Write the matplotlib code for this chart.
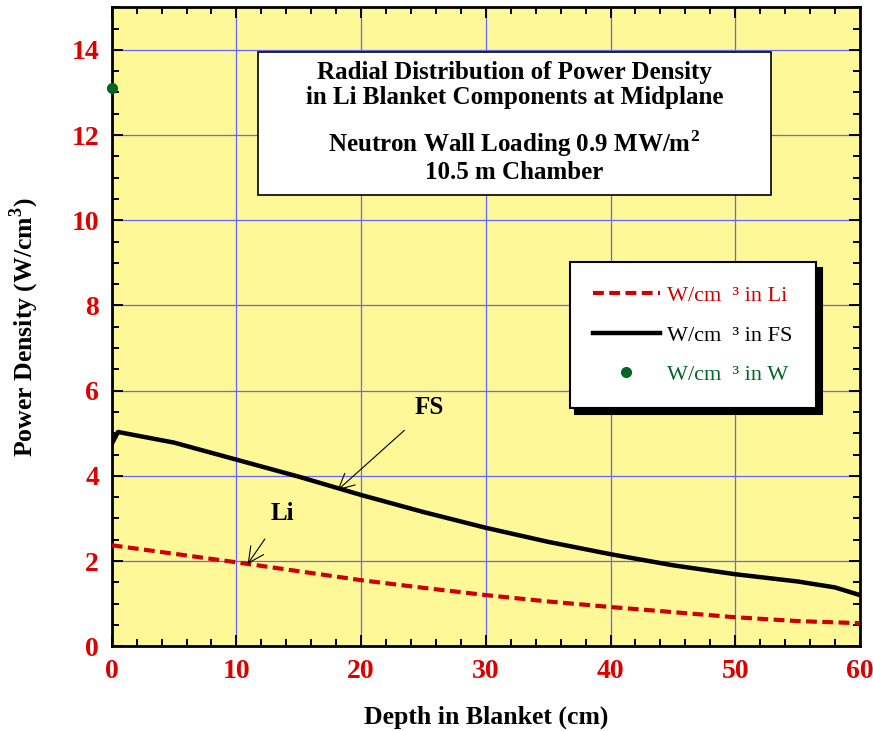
import matplotlib.pyplot as plt
from matplotlib.patches import Rectangle
from matplotlib.ticker import MultipleLocator

plt.rcParams['font.family'] = ['Liberation Serif', 'DejaVu Serif']
plt.rcParams['mathtext.fontset'] = 'custom'
plt.rcParams['mathtext.rm'] = 'Liberation Serif'
plt.rcParams['mathtext.bf'] = 'Liberation Serif:bold'

# power density in ferritic steel (FS)
fs_depth = [0, 0.5, 5, 10, 15, 20, 25, 30, 35, 40, 45, 50, 55, 58, 60]
fs_power = [4.75, 5.03, 4.78, 4.38, 3.98, 3.55, 3.15, 2.78, 2.45, 2.16, 1.90, 1.69, 1.52, 1.38, 1.20]

# power density in lithium
li_depth = [0, 5, 10, 15, 20, 25, 30, 35, 40, 45, 50, 55, 60]
li_power = [2.37, 2.17, 1.97, 1.76, 1.55, 1.37, 1.20, 1.05, 0.92, 0.80, 0.68, 0.59, 0.54]

# tungsten, first wall only
w_depth = [0]
w_power = [13.1]

fig = plt.figure(figsize=(8.73, 7.31), dpi=100)
ax = fig.add_axes([0.128, 0.116, 0.857, 0.874])
ax.set_facecolor('#fff899')

ax.plot(li_depth, li_power, color='#cc0000', lw=3.0, dashes=(2.6, 1.3),
        label='W/cm  \u00b3 in Li', zorder=3)
ax.plot(fs_depth, fs_power, color='black', lw=3.2,
        label='W/cm  \u00b3 in FS', zorder=3)
ax.plot(w_depth, w_power, 'o', color='#006622', ms=7, clip_on=False,
        label='W/cm  \u00b3 in W', zorder=4)

ax.set_xlim(0, 60)
ax.set_ylim(0, 15)
ax.xaxis.set_major_locator(MultipleLocator(10))
ax.xaxis.set_minor_locator(MultipleLocator(2))
ax.yaxis.set_minor_locator(MultipleLocator(0.5))
ax.set_yticks(range(0, 15, 2))
ax.grid(True, which='major', color='#6666ff', lw=0.9, zorder=1)
ax.set_axisbelow(True)

ax.tick_params(which='both', direction='in', top=True, right=True,
               colors='black', width=1.4)
ax.tick_params(which='major', length=8, labelsize=20, labelcolor='#dd0000', pad=9)
ax.tick_params(which='minor', length=5)
for lab in ax.get_xticklabels() + ax.get_yticklabels():
    lab.set_fontweight('bold')
for sp in ax.spines.values():
    sp.set_linewidth(2)

ax.set_xlabel('Depth in Blanket (cm)', fontsize=18.5, fontweight='bold', labelpad=16)
ax.set_ylabel('Power Density (W/cm$^\\mathbf{3}$)', fontsize=18.5, fontweight='bold', labelpad=22)

# title box
ax.add_patch(Rectangle((11.7, 10.6), 41.2, 3.35, facecolor='white',
                       edgecolor='black', lw=1.2, zorder=5))
title_lines = ['Radial Distribution of Power Density',
               'in Li Blanket Components at Midplane',
               'Neutron Wall Loading 0.9 MW/m$^\\mathbf{2}$',
               '10.5 m Chamber']
title_y = [13.47, 12.89, 11.81, 11.13]
for line, yy in zip(title_lines, title_y):
    ax.text(32.3, yy, line, ha='center', va='center', fontsize=18,
            fontweight='bold', zorder=6)

# curve labels
ax.annotate('FS', xy=(18.1, 3.66), xytext=(25.5, 5.6), fontsize=18, fontweight='bold',
            ha='center', va='center',
            arrowprops=dict(arrowstyle='->', color='black', lw=0.8,
                            shrinkA=9, shrinkB=0, mutation_scale=28))
ax.annotate('Li', xy=(10.9, 1.93), xytext=(13.7, 3.12), fontsize=18, fontweight='bold',
            ha='center', va='center',
            arrowprops=dict(arrowstyle='->', color='black', lw=0.8,
                            shrinkA=10, shrinkB=0, mutation_scale=28))

leg = ax.legend(loc='upper left', bbox_to_anchor=(0.612, 0.601), fontsize=16,
                handlelength=3.0, labelspacing=0.85, borderpad=1.05,
                handletextpad=0.35, fancybox=False, framealpha=1,
                edgecolor='black', borderaxespad=0,
                labelcolor=['#cc0000', 'black', '#006622'],
                shadow={'color': 'black', 'alpha': 1, 'ox': 4, 'oy': -4})
leg.get_frame().set_linewidth(1.5)
leg.set_zorder(7)

fig.savefig('out.png', dpi=100)
